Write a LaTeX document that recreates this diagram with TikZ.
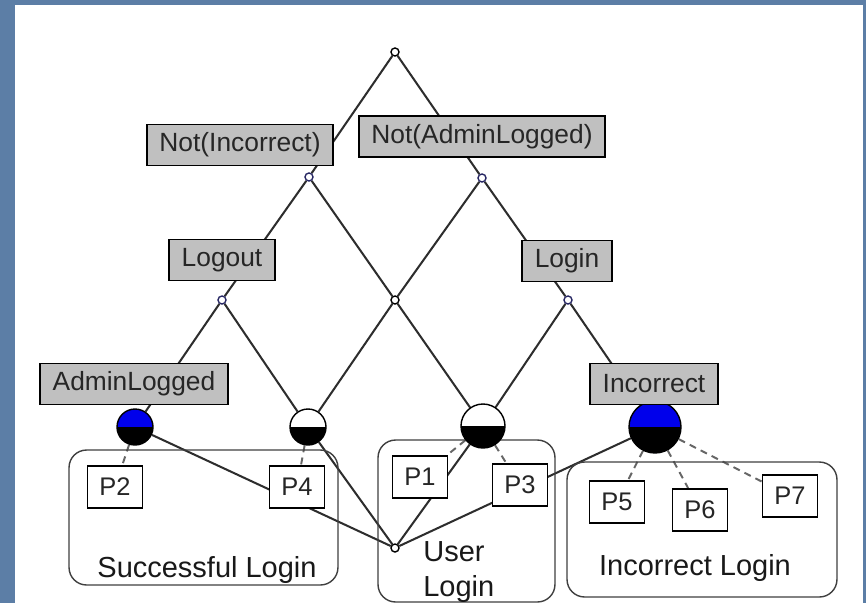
\documentclass[tikz,border=0pt]{standalone}
\usepackage{fontspec}
\setmainfont{Liberation Sans}
\usetikzlibrary{backgrounds}

\definecolor{slideblue}{RGB}{92,126,166}
\definecolor{boxgray}{RGB}{192,192,192}
\definecolor{linkgray}{RGB}{45,45,45}
\definecolor{ballblue}{RGB}{0,0,235}
\definecolor{ptblue}{RGB}{40,40,100}

\tikzset{
  lbl/.style={draw=black, fill=boxgray, line width=1.1pt, inner xsep=7pt, minimum height=0.82cm, text=black!85, font=\fontsize{15}{17}\selectfont},
  obj/.style={draw=black, fill=white, line width=1.1pt, minimum width=1.1cm, minimum height=0.84cm, text=black!85, font=\fontsize{14.5}{16}\selectfont},
  pt/.style={circle, draw=#1, fill=white, line width=0.8pt, inner sep=0pt, minimum size=0.16cm},
  pt/.default=black,
  ball/.style={circle, draw=black, fill=#1, line width=0.8pt, inner sep=0pt,
    path picture={\fill[black] (path picture bounding box.west) rectangle (path picture bounding box.south east);}},
  ball/.default=white,
  grp/.style={draw=black!75, line width=0.8pt, rounded corners=10pt},
  grptext/.style={text=black!90, font=\fontsize{16.5}{20}\selectfont},
  link/.style={draw=linkgray, line width=1.15pt},
  objlink/.style={draw=black!60, line width=1.1pt, dash pattern=on 4pt off 3pt}
}

\begin{document}
\begin{tikzpicture}[x=0.02cm, y=-0.02cm]
\useasboundingbox (0,0) rectangle (866,603);

% groups of objects
\node[grp, minimum width=5.38cm, minimum height=2.7cm] (succ) at (203.5,517.5) {};
\node[grp, minimum width=3.54cm, minimum height=3.24cm] (user) at (466.5,521) {};
\node[grp, minimum width=5.4cm, minimum height=2.7cm] (incl) at (702,529.5) {};
\node[grptext, anchor=base] (succtxt) at (207,577) {Successful Login};
\node[grptext, anchor=north west, align=left, inner sep=0pt] (usertxt) at (423,541) {User\\Login};
\node[grptext, anchor=base] (incltxt) at (695,575) {Incorrect Login};

% lattice points
\node[pt] (T) at (395,52) {};
\node[pt=ptblue] (A) at (309,177) {};
\node[pt=ptblue] (B) at (482,178) {};
\node[pt=ptblue] (C) at (222,300) {};
\node[pt] (D) at (395,300) {};
\node[pt=ptblue] (E) at (568,300) {};
\node[ball=ballblue, minimum size=0.72cm] (F) at (135,427) {};
\node[ball, minimum size=0.72cm] (G) at (308,427) {};
\node[ball, minimum size=0.88cm] (H) at (483,426) {};
\node[ball=ballblue, minimum size=1.04cm] (I) at (655,427) {};
\node[pt] (Z) at (395,548) {};

% attribute labels
\node[lbl] (notinc) at (240,145) {Not(Incorrect)};
\node[lbl] (notadm) at (482,136.5) {Not(AdminLogged)};
\node[lbl] (logout) at (222,260) {Logout};
\node[lbl] (login) at (567,261) {Login};
\node[lbl] (admin) at (134,384) {AdminLogged};
\node[lbl] (incorr) at (654,384) {Incorrect};

% objects
\node[obj] (P1) at (420,477) {P1};
\node[obj] (P2) at (115,487) {P2};
\node[obj] (P3) at (520,485) {P3};
\node[obj] (P4) at (297,487) {P4};
\node[obj] (P5) at (617,502) {P5};
\node[obj] (P6) at (700,510) {P6};
\node[obj] (P7) at (790,496) {P7};

\begin{scope}[on background layer]
  \fill[slideblue] (0,0) rectangle (866,603);
  \fill[white] (15,5) rectangle (863,603);
  % lattice edges
  \draw[link] (T) -- (A);
  \draw[link] (T) -- (B);
  \draw[link] (A) -- (C);
  \draw[link] (A) -- (D);
  \draw[link] (B) -- (D);
  \draw[link] (B) -- (E);
  \draw[link] (C) -- (F);
  \draw[link] (C) -- (G);
  \draw[link] (D) -- (G);
  \draw[link] (D) -- (H);
  \draw[link] (E) -- (H);
  \draw[link] (E) -- (I);
  \draw[link] (F) -- (Z);
  \draw[link] (G) -- (Z);
  \draw[link] (H) -- (Z);
  \draw[link] (I) -- (Z);
  % object labels
  \draw[objlink] (F) -- (P2);
  \draw[objlink] (G) -- (P4);
  \draw[objlink] (H) -- (P1);
  \draw[objlink] (H) -- (P3);
  \draw[objlink] (I) -- (P5);
  \draw[objlink] (I) -- (P6);
  \draw[objlink] (I) -- (P7);
\end{scope}
\end{tikzpicture}
\end{document}
